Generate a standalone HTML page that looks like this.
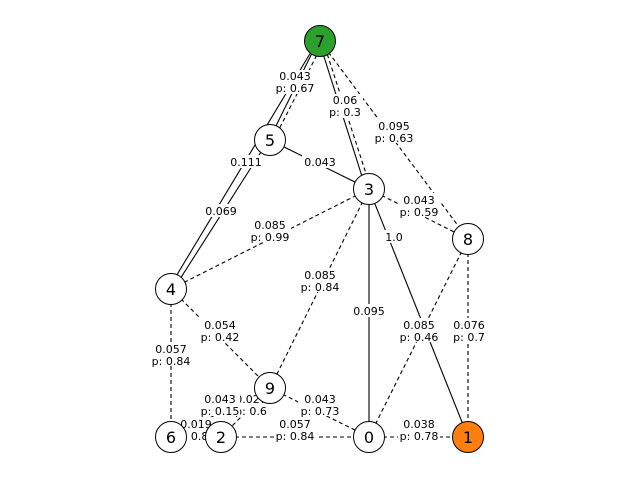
<!DOCTYPE html>
<html><head><meta charset="utf-8"><style>body{margin:0;background:#fff}svg{display:block}text{font-family:"DejaVu Sans","Liberation Sans",sans-serif}</style></head><body>
<svg width="640" height="480" viewBox="0 0 640 480">
<g stroke="#000" stroke-width="1.1" fill="none">
<line x1="318" y1="41" x2="269" y2="140"/>
<line x1="323" y1="43" x2="273" y2="141" stroke-dasharray="4,3"/>
<line x1="317" y1="42" x2="169" y2="288"/>
<line x1="268" y1="141" x2="173" y2="290"/>
<line x1="319" y1="41" x2="366" y2="189"/>
<line x1="323" y1="41" x2="371" y2="189" stroke-dasharray="4,3"/>
<line x1="320" y1="41" x2="468" y2="239" stroke-dasharray="4,3"/>
<line x1="270" y1="140" x2="369" y2="189"/>
<line x1="369" y1="189" x2="171" y2="289" stroke-dasharray="4,3"/>
<line x1="369" y1="189" x2="468" y2="239" stroke-dasharray="4,3"/>
<line x1="369" y1="189" x2="468" y2="437"/>
<line x1="369" y1="189" x2="369" y2="437"/>
<line x1="369" y1="189" x2="270" y2="388" stroke-dasharray="4,3"/>
<line x1="468" y1="239" x2="369" y2="437" stroke-dasharray="4,3"/>
<line x1="468" y1="239" x2="468" y2="437" stroke-dasharray="4,3"/>
<line x1="171" y1="289" x2="171" y2="437" stroke-dasharray="4,3"/>
<line x1="171" y1="289" x2="270" y2="388" stroke-dasharray="4,3"/>
<line x1="270" y1="388" x2="221" y2="437" stroke-dasharray="4,3"/>
<line x1="270" y1="388" x2="171" y2="437" stroke-dasharray="4,3"/>
<line x1="270" y1="388" x2="369" y2="437" stroke-dasharray="4,3"/>
<line x1="221" y1="437" x2="369" y2="437" stroke-dasharray="4,3"/>
<line x1="369" y1="437" x2="468" y2="437" stroke-dasharray="4,3"/>
<line x1="171" y1="437" x2="221" y2="437" stroke-dasharray="4,3"/>
</g>
<g font-size="11" text-anchor="middle">
<g fill="#fff">
<rect x="274" y="70" width="42" height="24"/><rect x="327" y="94" width="36" height="24"/>
<rect x="373" y="119" width="42" height="24"/><rect x="229" y="155" width="34" height="13"/>
<rect x="302" y="155" width="36" height="13"/><rect x="203" y="204" width="36" height="13"/>
<rect x="249" y="218" width="42" height="24"/><rect x="398" y="193" width="42" height="24"/>
<rect x="384" y="230" width="20" height="13"/><rect x="299" y="268" width="42" height="24"/>
<rect x="351" y="304" width="36" height="13"/><rect x="398" y="318" width="42" height="24"/>
<rect x="451" y="318" width="36" height="24"/><rect x="150" y="342" width="42" height="24"/>
<rect x="199" y="318" width="42" height="24"/><rect x="298" y="392" width="42" height="24"/>
<rect x="274" y="416" width="42" height="24"/><rect x="398" y="416" width="42" height="24"/>
<rect x="176" y="417" width="40" height="24"/>
</g>
<text x="295" y="80">0.043</text><text x="295" y="92">p: 0.67</text>
<text x="345" y="104">0.06</text><text x="345" y="116">p: 0.3</text>
<text x="394" y="130">0.095</text><text x="394" y="142">p: 0.63</text>
<text x="246" y="166">0.111</text><text x="320" y="166">0.043</text>
<text x="221" y="215">0.069</text>
<text x="270" y="229">0.085</text><text x="270" y="241">p: 0.99</text>
<text x="419" y="204">0.043</text><text x="419" y="216">p: 0.59</text>
<text x="394" y="241">1.0</text>
<text x="320" y="279">0.085</text><text x="320" y="291">p: 0.84</text>
<text x="369" y="315">0.095</text>
<text x="419" y="329">0.085</text><text x="419" y="341">p: 0.46</text>
<text x="469" y="329">0.076</text><text x="469" y="341">p: 0.7</text>
<text x="171" y="353">0.057</text><text x="171" y="365">p: 0.84</text>
<text x="220" y="329">0.054</text><text x="220" y="341">p: 0.42</text>
<text x="196" y="428">0.019</text><text x="196" y="440">p: 0.84</text>
<rect x="230" y="392" width="42" height="24" fill="#fff"/>
<text x="251" y="403">0.027</text><text x="251" y="415">p: 0.6</text>
<rect x="200" y="392" width="40" height="24" fill="#fff"/>
<text x="220" y="403">0.043</text><text x="220" y="415">p: 0.15</text>
<text x="320" y="403">0.043</text><text x="320" y="415">p: 0.73</text>
<text x="295" y="428">0.057</text><text x="295" y="440">p: 0.84</text>
<text x="419" y="428">0.038</text><text x="419" y="440">p: 0.78</text>
</g>
<g stroke="#000" stroke-width="1">
<circle cx="320" cy="41" r="15.5" fill="#2ca02c"/>
<circle cx="270" cy="140" r="15.5" fill="#fff"/>
<circle cx="369" cy="189" r="15.5" fill="#fff"/>
<circle cx="468" cy="239" r="15.5" fill="#fff"/>
<circle cx="171" cy="289" r="15.5" fill="#fff"/>
<circle cx="270" cy="388" r="15.5" fill="#fff"/>
<circle cx="171" cy="437" r="15.5" fill="#fff"/>
<circle cx="221" cy="437" r="15.5" fill="#fff"/>
<circle cx="369" cy="437" r="15.5" fill="#fff"/>
<circle cx="468" cy="437" r="15.5" fill="#ff7f0e"/>
</g>
<g font-size="16" text-anchor="middle">
<text x="320" y="47">7</text><text x="270" y="146">5</text><text x="369" y="195">3</text>
<text x="468" y="245">8</text><text x="171" y="295">4</text><text x="270" y="394">9</text>
<text x="171" y="443">6</text><text x="221" y="443">2</text><text x="369" y="443">0</text>
<text x="468" y="443">1</text>
</g>
</svg>
</body></html>
